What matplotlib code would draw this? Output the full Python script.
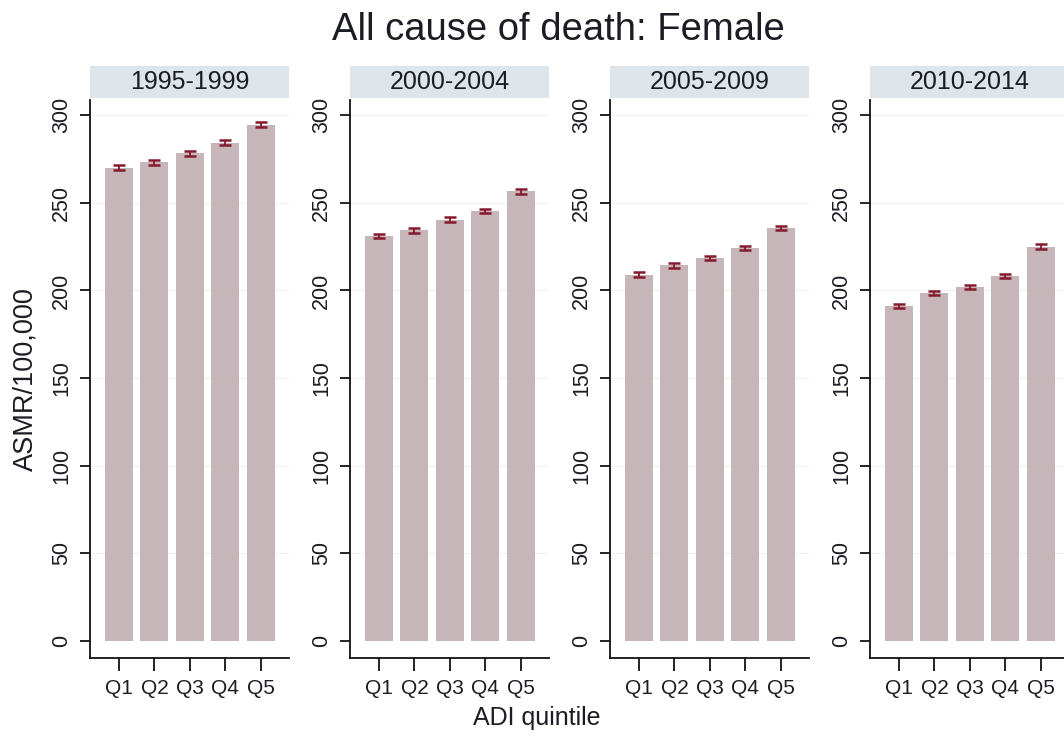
import numpy as np
import matplotlib
matplotlib.use("Agg")
import matplotlib.pyplot as plt
from matplotlib.patches import Rectangle

plt.rcParams['font.family'] = ['Liberation Sans', 'DejaVu Sans']

# data
periods = ['1995-1999', '2000-2004', '2005-2009', '2010-2014']
quintiles = ['Q1', 'Q2', 'Q3', 'Q4', 'Q5']
asmr_1995 = [270.0, 273.0, 278.3, 284.3, 294.5]
asmr_2000 = [231.0, 234.3, 240.3, 245.3, 256.5]
asmr_2005 = [209.0, 214.2, 218.4, 224.2, 235.5]
asmr_2010 = [191.3, 198.6, 201.8, 208.3, 225.0]
ci_1995 = [1.5, 1.5, 1.4, 1.4, 1.4]
ci_2000 = [1.4, 1.4, 1.3, 1.3, 1.3]
ci_2005 = [1.3, 1.3, 1.3, 1.3, 1.3]
ci_2010 = [1.2, 1.2, 1.2, 1.2, 1.3]

values = [asmr_1995, asmr_2000, asmr_2005, asmr_2010]
cis = [ci_1995, ci_2000, ci_2005, ci_2010]

W, H = 1064, 736
fig = plt.figure(figsize=(W / 100, H / 100), dpi=100)
fig.patch.set_facecolor('white')

txt = '#1c1c24'
bar_col = '#c6b6b9'
err_col = '#861a2c'
strip_col = '#dde4ea'

x = np.arange(1, 6)
for i in range(4):
    left = (90 + 260 * i) / W
    ax = fig.add_axes([left, 1 - 658 / H, 199 / W, 558 / H])
    ax.bar(x, values[i], width=0.79, color=bar_col, zorder=2)
    ax.errorbar(x, values[i], yerr=cis[i], fmt='none', ecolor=err_col,
                elinewidth=1.3, capsize=4.5, capthick=1.8, zorder=3)
    ax.set_xlim(0.18, 5.8)
    ax.set_ylim(-9.7, 308.6)
    ax.set_yticks([0, 50, 100, 150, 200, 250, 300])
    ax.set_xticks(x)
    ax.set_xticklabels(quintiles)
    for yv in [50, 100, 150, 200, 250, 300]:
        ax.axhline(yv, color='#f1f1f1', lw=0.8, zorder=1)
    for s in ['top', 'right']:
        ax.spines[s].set_visible(False)
    for s in ['left', 'bottom']:
        ax.spines[s].set_linewidth(1.3)
        ax.spines[s].set_color('#111111')
    ax.tick_params(axis='y', length=7, width=1.2, pad=6, labelsize=15.5,
                   labelrotation=90, labelcolor=txt)
    ax.tick_params(axis='x', length=9, width=1.2, pad=6, labelsize=15,
                   labelcolor=txt)
    for lab in ax.get_yticklabels():
        lab.set_va('center')
    # strip header
    ax.add_patch(Rectangle((0, 1.004), 1.0, 32 / 558, transform=ax.transAxes,
                           facecolor=strip_col, edgecolor='none', clip_on=False))
    ax.text(0.5, 1.004 + 16 / 558, periods[i], transform=ax.transAxes,
            ha='center', va='center', fontsize=18, color=txt)
    if i == 0:
        ax.set_ylabel('ASMR/100,000', fontsize=19.5, color=txt, labelpad=9)

fig.text(558 / W, 1 - 30 / H, 'All cause of death: Female', ha='center',
         va='center', fontsize=27.5, color=txt)
fig.text(537 / W, 1 - 718 / H, 'ADI quintile', ha='center', va='center',
         fontsize=18, color=txt)

fig.savefig('out.png', dpi=100)
